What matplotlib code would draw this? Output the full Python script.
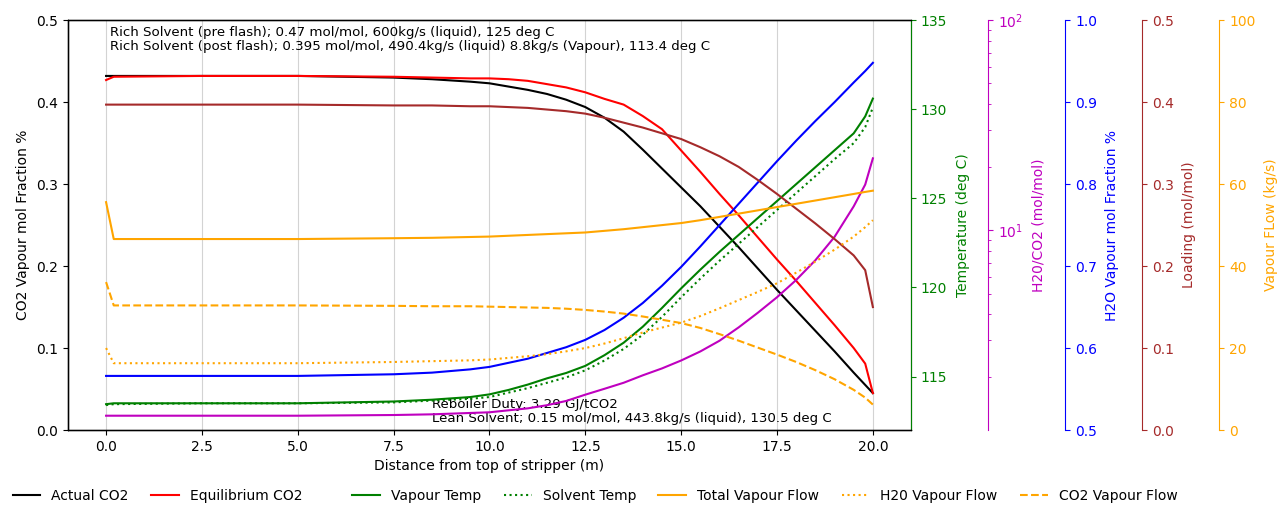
import matplotlib
matplotlib.use('Agg')
import matplotlib.pyplot as plt
import numpy as np

# distance from top of stripper (m)
dist = [0, 0.2, 2.5, 5, 7.5, 8.5, 9.5, 10, 10.5, 11, 11.5, 12, 12.5, 13, 13.5, 14, 14.5,
        15, 15.5, 16, 16.5, 17, 17.5, 18, 18.5, 19, 19.5, 19.8, 20]

co2_actual = [0.432, 0.432, 0.432, 0.432, 0.430, 0.428, 0.425, 0.423, 0.419, 0.415, 0.410,
              0.403, 0.394, 0.381, 0.364, 0.342, 0.319, 0.296, 0.273, 0.248, 0.223,
              0.197, 0.171, 0.146, 0.121, 0.096, 0.070, 0.055, 0.045]
co2_equil = [0.427, 0.431, 0.432, 0.432, 0.431, 0.430, 0.429, 0.429, 0.428, 0.426, 0.422,
             0.418, 0.412, 0.404, 0.397, 0.383, 0.367, 0.341, 0.315, 0.288, 0.262,
             0.235, 0.208, 0.182, 0.155, 0.128, 0.100, 0.081, 0.045]
vap_temp = [113.45, 113.5, 113.5, 113.5, 113.6, 113.7, 113.85, 114.0, 114.25, 114.55, 114.9,
            115.2, 115.6, 116.2, 116.9, 117.8, 118.85, 119.95, 121.0, 122.0, 122.95,
            123.9, 124.85, 125.8, 126.75, 127.7, 128.65, 129.6, 130.6]
solv_temp = [113.4, 113.45, 113.5, 113.5, 113.55, 113.65, 113.75, 113.85, 114.1, 114.35, 114.65,
             114.95, 115.35, 115.9, 116.55, 117.35, 118.35, 119.45, 120.5, 121.5, 122.45,
             123.4, 124.35, 125.3, 126.25, 127.2, 128.1, 129.0, 130.1]
h2o_co2 = [1.31, 1.31, 1.31, 1.31, 1.32, 1.33, 1.35, 1.36, 1.39, 1.42, 1.47,
           1.54, 1.65, 1.76, 1.88, 2.04, 2.2, 2.4, 2.65, 2.98, 3.45,
           4.05, 4.8, 5.8, 7.2, 9.3, 13.0, 16.5, 22.0]
h2o_frac = [0.566, 0.566, 0.566, 0.566, 0.568, 0.570, 0.574, 0.577, 0.582, 0.587, 0.594,
            0.601, 0.610, 0.622, 0.637, 0.655, 0.676, 0.699, 0.724, 0.750, 0.776,
            0.802, 0.828, 0.853, 0.877, 0.900, 0.924, 0.938, 0.948]
loading = [0.397, 0.397, 0.397, 0.397, 0.396, 0.396, 0.395, 0.395, 0.394, 0.393, 0.391,
           0.389, 0.386, 0.381, 0.375, 0.369, 0.362, 0.355, 0.345, 0.334, 0.321,
           0.305, 0.288, 0.270, 0.252, 0.233, 0.213, 0.195, 0.150]
flow_total = [55.6, 46.6, 46.6, 46.6, 46.8, 46.9, 47.1, 47.2, 47.4, 47.6, 47.8,
              48.0, 48.2, 48.6, 49.0, 49.5, 50.0, 50.5, 51.2, 52.0, 52.8,
              53.6, 54.4, 55.2, 56.0, 56.8, 57.6, 58.1, 58.4]
flow_h2o = [20.0, 16.3, 16.3, 16.3, 16.6, 16.8, 17.0, 17.2, 17.6, 18.0, 18.5,
            19.2, 20.0, 21.1, 22.4, 23.8, 25.0, 26.2, 27.8, 29.7, 31.7,
            33.7, 35.8, 38.4, 41.1, 44.0, 47.2, 49.5, 51.2]
flow_co2 = [36.1, 30.4, 30.4, 30.4, 30.3, 30.2, 30.2, 30.1, 30.0, 29.9, 29.8,
            29.6, 29.3, 28.9, 28.4, 27.7, 26.9, 26.1, 24.9, 23.4, 21.8,
            20.1, 18.4, 16.6, 14.6, 12.4, 9.8, 7.9, 6.2]

fig = plt.figure(figsize=(12.78, 5.05), dpi=100)
ax = fig.add_axes([0.053, 0.1485, 0.66, 0.8115])

l1, = ax.plot(dist, co2_actual, color='black', label='Actual CO2')
l2, = ax.plot(dist, co2_equil, color='red', label='Equilibrium CO2')
ax.set_ylim(0, 0.5)
ax.set_xlabel('Distance from top of stripper (m)')
ax.set_ylabel('CO2 Vapour mol Fraction %')
ax.grid(axis='x', color='lightgray')

ax.text(0.1, 0.493, 'Rich Solvent (pre flash); 0.47 mol/mol, 600kg/s (liquid), 125 deg C\n'
        'Rich Solvent (post flash); 0.395 mol/mol, 490.4kg/s (liquid) 8.8kg/s (Vapour), 113.4 deg C',
        va='top', fontsize=9.6, linespacing=1.1)
ax.text(8.5, 0.006, 'Reboiler Duty: 3.29 GJ/tCO2\n'
        'Lean Solvent; 0.15 mol/mol, 443.8kg/s (liquid), 130.5 deg C',
        va='bottom', fontsize=9.6, linespacing=1.1)


def make_twin(offset, color, label):
    t = ax.twinx()
    t.spines['right'].set_position(('axes', offset))
    t.spines['right'].set_color(color)
    t.tick_params(axis='y', which='both', colors=color)
    t.set_ylabel(label, color=color, labelpad=6)
    return t


ax_t = make_twin(1.0, 'green', 'Temperature (deg C)')
l3, = ax_t.plot(dist, vap_temp, color='green', label='Vapour Temp')
l4, = ax_t.plot(dist, solv_temp, color='green', linestyle=':', label='Solvent Temp')
ax_t.set_ylim(112, 135)

ax_r = make_twin(1.0913, 'm', 'H20/CO2 (mol/mol)')
ax_r.plot(dist, h2o_co2, color='m')
ax_r.set_yscale('log')
ax_r.set_ylim(1.12, 100)

ax_h = make_twin(1.1826, 'blue', 'H2O Vapour mol Fraction %')
ax_h.plot(dist, h2o_frac, color='blue')
ax_h.set_ylim(0.5, 1.0)

ax_l = make_twin(1.2739, 'brown', 'Loading (mol/mol)')
ax_l.plot(dist, loading, color='brown')
ax_l.set_ylim(0, 0.5)

ax_f = make_twin(1.3652, 'orange', 'Vapour FLow (kg/s)')
l5, = ax_f.plot(dist, flow_total, color='orange', label='Total Vapour Flow')
l6, = ax_f.plot(dist, flow_h2o, color='orange', linestyle=':', label='H20 Vapour Flow')
l7, = ax_f.plot(dist, flow_co2, color='orange', linestyle='--', label='CO2 Vapour Flow')
ax_f.set_ylim(0, 100)

h1 = [l1, l2]
h2 = [l3, l4, l5, l6, l7]
fig.legend(h1, [h.get_label() for h in h1], loc='center left',
           bbox_to_anchor=(0.0, 0.018), ncol=2, frameon=False, columnspacing=1.6)
fig.legend(h2, [h.get_label() for h in h2], loc='center left',
           bbox_to_anchor=(0.266, 0.018), ncol=5, frameon=False, columnspacing=1.6)

fig.savefig('out.png', dpi=100)
